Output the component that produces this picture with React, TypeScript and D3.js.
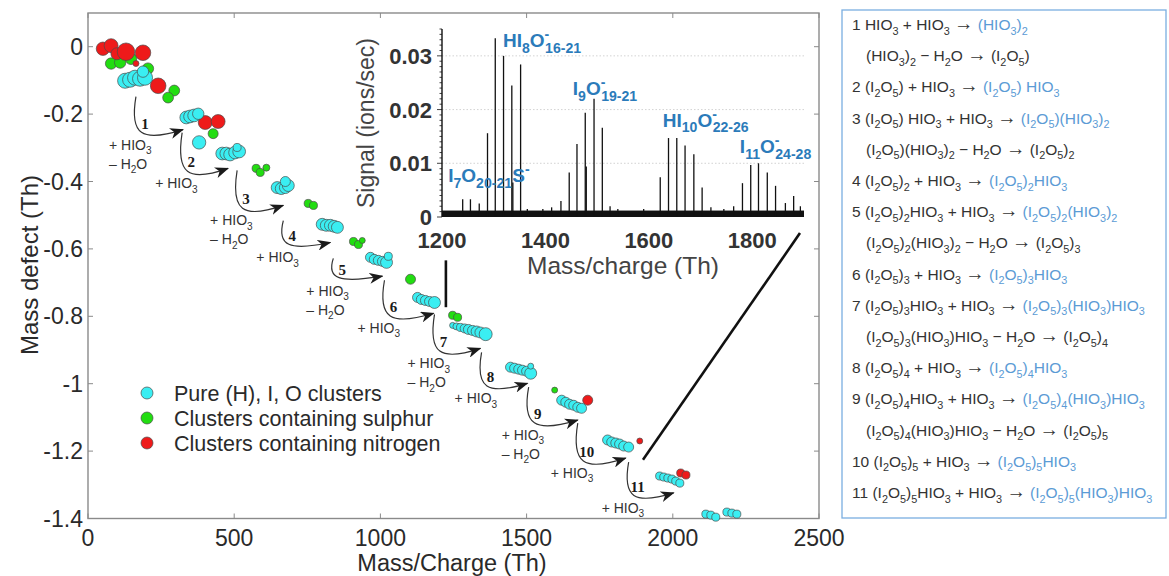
import React from 'react'
import * as d3 from 'd3'

const W = 1169
const H = 576

// main panel points: [mass/charge, mass defect, relative signal]
const pureIO: [number, number, number][] = [
  [127, -0.101, 70], [144, -0.098, 70], [161, -0.092, 70], [178, -0.095, 70], [195, -0.092, 70], [188, -0.074, 40],
  [336, -0.21, 50], [349, -0.207, 50], [363, -0.204, 50], [377, -0.199, 40], [380, -0.284, 55],
  [459, -0.317, 50], [473, -0.317, 50], [486, -0.32, 50], [503, -0.314, 50], [517, -0.311, 50], [510, -0.299, 20],
  [647, -0.418, 44], [661, -0.421, 44], [675, -0.418, 44], [685, -0.412, 44], [675, -0.4, 31],
  [801, -0.527, 44], [815, -0.53, 44], [829, -0.53, 44], [842, -0.533, 44], [853, -0.536, 44],
  [966, -0.625, 31], [979, -0.631, 31], [993, -0.634, 31], [1007, -0.637, 31], [1021, -0.64, 44], [1027, -0.622, 20],
  [1127, -0.744, 31], [1140, -0.75, 31], [1154, -0.753, 31], [1168, -0.756, 31], [1185, -0.759, 44],
  [1247, -0.827, 11], [1260, -0.83, 15], [1274, -0.833, 20], [1288, -0.836, 25], [1301, -0.839, 31],
  [1315, -0.842, 31], [1329, -0.845, 37], [1342, -0.848, 37], [1360, -0.853, 52],
  [1445, -0.951, 31], [1459, -0.954, 31], [1473, -0.957, 31], [1486, -0.96, 31], [1500, -0.963, 31], [1514, -0.969, 44], [1514, -0.948, 11],
  [1620, -1.049, 31], [1634, -1.055, 31], [1647, -1.061, 31], [1661, -1.064, 31], [1675, -1.07, 31], [1688, -1.073, 31],
  [1777, -1.167, 31], [1791, -1.173, 31], [1805, -1.176, 31], [1818, -1.179, 31], [1832, -1.185, 31], [1849, -1.188, 31],
  [1955, -1.274, 20], [1969, -1.277, 20], [1983, -1.28, 20], [1997, -1.283, 20], [2010, -1.289, 20], [2024, -1.295, 20],
  [2113, -1.387, 20], [2130, -1.39, 20], [2147, -1.396, 20], [2185, -1.381, 20], [2202, -1.384, 20], [2219, -1.387, 20],
]

const sulphur: [number, number, number][] = [
  [79, -0.05, 40], [110, -0.047, 40], [147, -0.036, 40], [205, -0.065, 40], [295, -0.13, 36], [274, -0.151, 36],
  [428, -0.258, 31],
  [575, -0.361, 20], [589, -0.373, 20], [610, -0.359, 15],
  [753, -0.465, 20], [771, -0.471, 20],
  [908, -0.578, 20], [925, -0.587, 20], [938, -0.575, 11],
  [1103, -0.69, 31],
  [1247, -0.797, 20], [1264, -0.803, 20],
  [1596, -1.019, 11],
]

const nitrogen: [number, number, number][] = [
  [51, -0.006, 55], [79, 0.003, 60], [99, -0.021, 45], [130, -0.015, 95], [188, -0.018, 75], [164, -0.05, 11], [240, -0.116, 75],
  [401, -0.225, 60], [445, -0.222, 60],
  [1709, -1.049, 31],
  [1887, -1.17, 11],
  [2027, -1.265, 20], [2045, -1.271, 20],
]

// growth steps (arrows): start and end in data units
const stepStart: [number, number][] = [
  [164, -0.148], [322, -0.255], [510, -0.367], [668, -0.516], [839, -0.628], [1014, -0.693],
  [1185, -0.794], [1346, -0.907], [1507, -1.01], [1675, -1.117], [1849, -1.233],
]
const stepEnd: [number, number][] = [
  [325, -0.246], [479, -0.361], [668, -0.471], [829, -0.581], [1007, -0.681], [1182, -0.791],
  [1342, -0.895], [1503, -0.999], [1675, -1.108], [1839, -1.221], [2003, -1.324],
]
const stepLosesWater = [true, false, true, false, true, false, true, false, true, false, false]

const xTicks = [0, 500, 1000, 1500, 2000, 2500]
const yTicks = [0, -0.2, -0.4, -0.6, -0.8, -1, -1.2, -1.4]

// zoom connectors (data units of main panel)
const zoomVertical: [number, number][] = [[1224, -0.634], [1224, -0.773]]
const zoomDiagonal: [number, number][] = [[2435, -0.553], [1898, -1.226]]

// inset spectrum: [mass/charge, signal]
const peaks: [number, number][] = [
  [1240, 0.0033], [1255, 0.0033], [1272, 0.0025], [1288, 0.0156], [1303, 0.0333], [1319, 0.030],
  [1335, 0.0245], [1337, 0.0064], [1352, 0.0284], [1365, 0.0015], [1395, 0.0015], [1412, 0.0018],
  [1430, 0.003], [1446, 0.0083], [1461, 0.0136], [1477, 0.0194], [1479, 0.0094], [1494, 0.022],
  [1510, 0.0166], [1525, 0.002], [1540, 0.0015], [1590, 0.0015], [1622, 0.0074], [1638, 0.0147],
  [1654, 0.0147], [1670, 0.0133], [1687, 0.0117], [1703, 0.0055], [1720, 0.0018], [1745, 0.0015],
  [1764, 0.002], [1781, 0.0063], [1797, 0.0097], [1812, 0.010], [1829, 0.0083], [1845, 0.0058],
  [1864, 0.0026], [1880, 0.0039], [1893, 0.002],
]
const noiseLevel = 0.0012
const insetXTicks = [1200, 1400, 1600, 1800]
const insetYTicks = [0, 0.01, 0.02, 0.03]
const insetMinorTicks = d3.range(0, 0.0351, 0.001)

const peakLabels: { src: string; m: number; s: number }[] = [
  { src: 'HI_8O^-_{16-21}', m: 1318, s: 0.0316 },
  { src: 'I_9O^-_{19-21}', m: 1453, s: 0.0227 },
  { src: 'HI_{10}O^-_{22-26}', m: 1627, s: 0.0168 },
  { src: 'I_{11}O^-_{24-28}', m: 1776, s: 0.0119 },
  { src: 'I_7O_{20-21}', m: 1212, s: 0.0065 },
  { src: 'S^-', m: 1336, s: 0.0065 },
]

// reaction list: text before "|" is black, after it blue
const reactions = [
  '1 HIO_3 + HIO_3 → |(HIO_3)_2',
  '  (HIO_3)_2 − H_2O → (I_2O_5)',
  '2 (I_2O_5) + HIO_3 →  |(I_2O_5) HIO_3',
  '3 (I_2O_5) HIO_3 + HIO_3 →  |(I_2O_5)(HIO_3)_2',
  '  (I_2O_5)(HIO_3)_2 − H_2O → (I_2O_5)_2',
  '4 (I_2O_5)_2 + HIO_3 → |(I_2O_5)_2HIO_3',
  '5 (I_2O_5)_2HIO_3 + HIO_3 →  |(I_2O_5)_2(HIO_3)_2',
  '  (I_2O_5)_2(HIO_3)_2 − H_2O → (I_2O_5)_3',
  '6 (I_2O_5)_3 + HIO_3 →  |(I_2O_5)_3HIO_3',
  '7 (I_2O_5)_3HIO_3 + HIO_3 →  |(I_2O_5)_3(HIO_3)HIO_3',
  '  (I_2O_5)_3(HIO_3)HIO_3 − H_2O → (I_2O_5)_4',
  '8 (I_2O_5)_4 + HIO_3 →  |(I_2O_5)_4HIO_3',
  '9 (I_2O_5)_4HIO_3 + HIO_3 →  |(I_2O_5)_4(HIO_3)HIO_3',
  '  (I_2O_5)_4(HIO_3)HIO_3 − H_2O → (I_2O_5)_5',
  '10 (I_2O_5)_5 + HIO_3 →  |(I_2O_5)_5HIO_3',
  '11 (I_2O_5)_5HIO_3 + HIO_3 →  |(I_2O_5)_5(HIO_3)HIO_3',
]

const legendItems = [
  { label: 'Pure (H), I, O clusters', color: '#3aeef2' },
  { label: 'Clusters containing sulphur', color: '#22dd11' },
  { label: 'Clusters containing nitrogen', color: '#ee1a1a' },
]

const FONT = '"Liberation Sans", Arial, sans-serif'
const TXT = '#2a2a2a'
const BLUE = '#2b7bba'
const LBLUE = '#5b9bd5'

type Tok = { t: string; k: 'n' | 'sub' | 'sup' | 'arr' }
function tokens(src: string): Tok[] {
  const re = /_\{([^}]*)\}|_(\d+)|\^\{([^}]*)\}|\^(-)|(→)|([^_^→]+)/g
  const out: Tok[] = []
  let m: RegExpExecArray | null
  while ((m = re.exec(src))) {
    if (m[1] != null || m[2] != null) out.push({ t: (m[1] ?? m[2]) as string, k: 'sub' })
    else if (m[3] != null || m[4] != null) out.push({ t: (m[3] ?? m[4]) as string, k: 'sup' })
    else if (m[5] != null) out.push({ t: m[5], k: 'arr' })
    else out.push({ t: m[6], k: 'n' })
  }
  return out
}

function rich(parts: { src: string; fill: string }[], size: number, subScale = 0.72) {
  let shift = 0
  let prev: string = 'n'
  const spans: JSX.Element[] = []
  parts.forEach((p, pi) =>
    tokens(p.src).forEach((tk, i) => {
      const target = tk.k === 'sub' ? size * 0.3 : tk.k === 'sup' ? -size * 0.42 : 0
      const dx = prev === 'sup' && tk.k === 'sub' ? -size * 0.22 : 0
      const fs = tk.k === 'arr' ? size * 1.25 : tk.k === 'n' ? size : size * subScale
      spans.push(
        <tspan key={`${pi}-${i}`} dy={target - shift} dx={dx} fontSize={fs} fill={p.fill}>
          {tk.t}
        </tspan>
      )
      shift = target
      prev = tk.k
    })
  )
  return spans
}

export default function App() {
  const x = d3.scaleLinear().domain([0, 2500]).range([88, 819])
  const y = d3.scaleLinear().domain([-1.4, 0.1]).range([518.5, 13])
  const r = d3.scaleSqrt().domain([0, 100]).range([0, 9])

  const xi = d3.scaleLinear().domain([1200, 1900]).range([442, 804])
  const yi = d3.scaleLinear().domain([0, 0.035]).range([217, 29])

  const [x0, x1] = x.range()
  const [yb, yt] = y.range()

  const arrowPath = (s: [number, number], e: [number, number]) => {
    const sx = x(s[0]), sy = y(s[1]), ex = x(e[0]), ey = y(e[1])
    const dx = ex - sx, dy = ey - sy
    const p = d3.path()
    p.moveTo(sx, sy)
    p.bezierCurveTo(sx - 0.14 * dx, sy + 1.15 * dy, sx + 0.12 * dx, ey + 0.4 * dy, ex, ey)
    return p.toString()
  }

  const dots = (data: [number, number, number][], color: string, key: string) =>
    data.map((d, i) => (
      <circle key={key + i} cx={x(d[0])} cy={y(d[1])} r={r(d[2])} fill={color} stroke="#4a4a4a" strokeWidth={0.7} />
    ))

  return (
    <svg width={W} height={H} style={{ position: 'absolute', left: 0, top: 0, background: '#fff' }} fontFamily={FONT}>
      <defs>
        <marker id="ah" viewBox="0 0 14 11" refX={13} refY={5.5} markerWidth={14} markerHeight={11} orient="auto" markerUnits="userSpaceOnUse">
          <path d="M0,0 L14,5.5 L0,11 L4,5.5 z" fill="#1a1a1a" />
        </marker>
      </defs>

      {/* main frame */}
      <rect x={x0} y={yt} width={x1 - x0} height={yb - yt} fill="none" stroke="#8a8a8a" strokeWidth={1.4} />
      {xTicks.map((t) => (
        <g key={`xt${t}`}>
          <line x1={x(t)} x2={x(t)} y1={yb} y2={yb - 5} stroke="#8a8a8a" />
          <line x1={x(t)} x2={x(t)} y1={yt} y2={yt + 5} stroke="#8a8a8a" />
          <text x={x(t)} y={546} textAnchor="middle" fontSize={23} fill={TXT}>{String(t)}</text>
        </g>
      ))}
      {yTicks.map((t) => (
        <g key={`yt${t}`}>
          <line x1={x0} x2={x0 + 5} y1={y(t)} y2={y(t)} stroke="#8a8a8a" />
          <line x1={x1} x2={x1 - 5} y1={y(t)} y2={y(t)} stroke="#8a8a8a" />
          <text x={83} y={y(t) + 8} textAnchor="end" fontSize={23} fill={TXT}>{String(t)}</text>
        </g>
      ))}
      <text x={452} y={571} textAnchor="middle" fontSize={23.5} fill={TXT}>Mass/Charge (Th)</text>
      <text transform={`translate(38,265) rotate(-90)`} textAnchor="middle" fontSize={24} fill={TXT}>Mass defect (Th)</text>

      {/* growth arrows */}
      {stepStart.map((s, i) => {
        const e = stepEnd[i]
        const sx = x(s[0]), ey = y(e[1])
        return (
          <g key={`st${i}`}>
            <path d={arrowPath(s, e)} fill="none" stroke="#333" strokeWidth={1.2} markerEnd="url(#ah)" />
            <text x={sx + 9} y={ey - 1} textAnchor="middle" fontSize={15} fontWeight="bold" fontFamily='"Liberation Serif", serif' fill="#1a1a1a">
              {i + 1}
            </text>
            <text x={sx - 27} y={ey + 20} fontSize={14} fill="#333">{rich([{ src: '+ HIO_3', fill: '#333' }], 14)}</text>
            {stepLosesWater[i] && (
              <text x={sx - 27} y={ey + 39} fontSize={14} fill="#333">{rich([{ src: '– H_2O', fill: '#333' }], 14)}</text>
            )}
          </g>
        )
      })}

      {/* clusters */}
      {dots(sulphur, legendItems[1].color, 's')}
      {dots(nitrogen, legendItems[2].color, 'n')}
      {dots(pureIO, legendItems[0].color, 'p')}

      {/* legend */}
      {legendItems.map((l, i) => (
        <g key={l.label} transform={`translate(147,${393 + i * 25})`}>
          <circle r={6} fill={l.color} stroke="#4a4a4a" strokeWidth={0.7} />
          <text x={27} y={7.5} fontSize={21.5} fill={TXT}>{l.label}</text>
        </g>
      ))}

      {/* zoom connectors */}
      <line x1={x(zoomVertical[0][0])} y1={y(zoomVertical[0][1])} x2={x(zoomVertical[1][0])} y2={y(zoomVertical[1][1])} stroke="#111" strokeWidth={2.6} />
      <line x1={x(zoomDiagonal[0][0])} y1={y(zoomDiagonal[0][1])} x2={x(zoomDiagonal[1][0])} y2={y(zoomDiagonal[1][1])} stroke="#111" strokeWidth={2.6} />

      {/* inset spectrum */}
      {insetYTicks.slice(1).map((t) => (
        <line key={`ig${t}`} x1={xi(1200)} x2={xi(1900)} y1={yi(t)} y2={yi(t)} stroke="#c8c8c8" strokeDasharray="1.5 2" strokeWidth={0.8} />
      ))}
      <rect x={xi(1200)} y={yi(noiseLevel)} width={xi(1900) - xi(1200)} height={yi(0) - yi(noiseLevel)} fill="#111" />
      {peaks.map((p, i) => (
        <line key={`pk${i}`} x1={xi(p[0])} x2={xi(p[0])} y1={yi(0)} y2={yi(p[1])} stroke="#111" strokeWidth={1.3} />
      ))}
      <line x1={xi(1200)} x2={xi(1200)} y1={yi(0)} y2={yi(0.035)} stroke="#111" strokeWidth={1.4} />
      {insetMinorTicks.map((t, i) => (
        <line key={`im${i}`} x1={xi(1200)} x2={xi(1200) - (i % 10 === 0 ? 5 : 2.5)} y1={yi(t)} y2={yi(t)} stroke="#111" strokeWidth={0.8} />
      ))}
      {insetYTicks.map((t) => (
        <text key={`iy${t}`} x={432} y={yi(t) + 8} textAnchor="end" fontSize={22} fontWeight="bold" fill="#333">{String(t)}</text>
      ))}
      {insetXTicks.map((t) => (
        <text key={`ix${t}`} x={xi(t)} y={248} textAnchor="middle" fontSize={22} fontWeight="bold" fill="#333">{String(t)}</text>
      ))}
      <text x={623} y={274} textAnchor="middle" fontSize={24.5} fill="#444">Mass/charge (Th)</text>
      <text transform={`translate(374,123) rotate(-90)`} textAnchor="middle" fontSize={23} fill="#444">Signal (ions/sec)</text>
      {peakLabels.map((l) => (
        <text key={l.src} x={xi(l.m)} y={yi(l.s)} fontSize={19} fontWeight="bold" fill={BLUE}>
          {rich([{ src: l.src, fill: BLUE }], 19, 0.74)}
        </text>
      ))}

      {/* reaction list */}
      <rect x={842} y={10} width={324} height={508} fill="none" stroke="#7aaee0" strokeWidth={1.3} />
      {reactions.map((line, i) => {
        const [black, blue] = line.split('|')
        const indent = black.startsWith('  ')
        const parts = [{ src: black.trim() + (blue != null ? ' ' : ''), fill: '#333' }]
        if (blue != null) parts.push({ src: blue, fill: LBLUE })
        return (
          <text key={`rx${i}`} x={indent ? 866 : 852} y={30 + i * 31.2} fontSize={15.5} fill="#333" style={{ whiteSpace: 'pre' }}>
            {rich(parts, 15.5, 0.7)}
          </text>
        )
      })}
    </svg>
  )
}
